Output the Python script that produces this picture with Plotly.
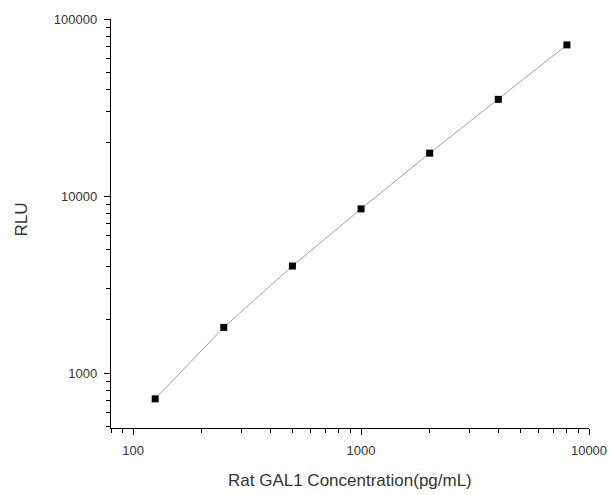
import plotly.graph_objects as go
import numpy as np

concentration = [125, 250, 500, 1000, 2000, 4000, 8000]
rlu = [716, 1814, 4027, 8466, 17480, 35170, 71400]

x_major = [100, 1000, 10000]
y_major = [1000, 10000, 100000]
x_minor = [m * 10**e for e in (1, 2, 3) for m in range(2, 10) if 80 <= m * 10**e <= 10000]
y_minor = [m * 10**e for e in (2, 3, 4) for m in range(2, 10) if 490 <= m * 10**e <= 100000]

fig = go.Figure()
fig.add_trace(go.Scatter(
    x=concentration, y=rlu, mode="lines",
    line=dict(color="#a0a0a0", width=1), hoverinfo="skip", showlegend=False))
fig.add_trace(go.Scatter(
    x=concentration, y=rlu, mode="markers",
    marker=dict(symbol="square", size=7, color="black"), showlegend=False))

font_family = "Liberation Sans, Arial"
axis_common = dict(
    type="log", showgrid=False, zeroline=False, showline=True,
    linecolor="black", linewidth=1.3, ticks="outside", ticklen=6,
    tickcolor="black", tickwidth=1.2, mirror=False, automargin=False,
    tickfont=dict(family=font_family, size=13, color="#333333"),
)

fig.update_xaxes(
    **axis_common, range=[np.log10(80), 4.0], tickmode="array",
    tickvals=x_major, ticktext=[str(v) for v in x_major], ticklabelstandoff=4,
    minor=dict(tickmode="array", tickvals=x_minor, ticks="outside", ticklen=4,
               tickcolor="black", tickwidth=1),
)
fig.update_yaxes(
    **axis_common, range=[np.log10(490), 5.0], tickmode="array",
    tickvals=y_major, ticktext=[str(v) for v in y_major], ticklabelstandoff=4,
    minor=dict(tickmode="array", tickvals=y_minor, ticks="outside", ticklen=4,
               tickcolor="black", tickwidth=1),
)

fig.add_annotation(text="Rat GAL1 Concentration(pg/mL)", xref="paper", yref="paper",
                   x=0.5, y=0, yshift=-52, xanchor="center", yanchor="middle",
                   showarrow=False, font=dict(family=font_family, size=17, color="#333333"))
fig.add_annotation(text="RLU", xref="paper", yref="paper", textangle=-90,
                   x=0, xshift=-90, y=0.51, xanchor="center", yanchor="middle",
                   showarrow=False, font=dict(family=font_family, size=17, color="#333333"))

fig.update_layout(
    width=609, height=495,
    margin=dict(l=111, r=20, t=19, b=67),
    paper_bgcolor="white", plot_bgcolor="white",
)

fig.write_html("out.html", config={"displayModeBar": False},
               post_script="document.body.style.margin='0';document.body.style.overflow='hidden';")
